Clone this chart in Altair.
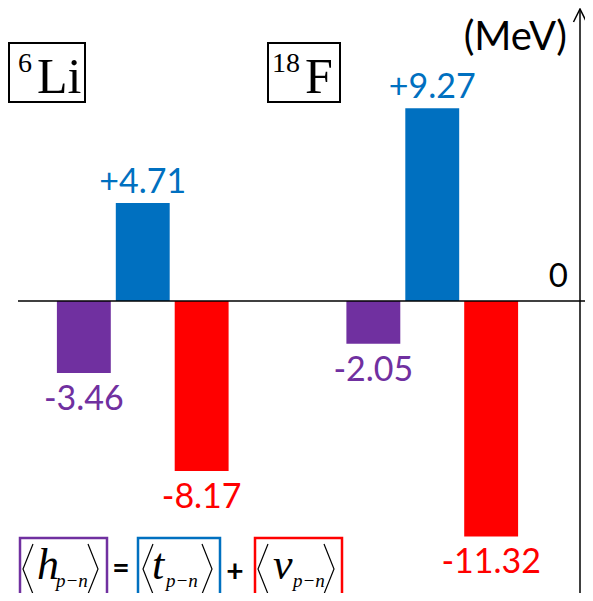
import altair as alt
import pandas as pd

nuclei = ["6Li", "18F"]
components = ["h", "t", "v"]
component_colors = ["#7030A0", "#0070C0", "#FF0000"]
li_values = [-3.46, 4.71, -8.17]
f_values = [-2.05, 9.27, -11.32]

rows = []
for nuc, vals in zip(nuclei, [li_values, f_values]):
    for comp, v in zip(components, vals):
        rows.append({"nucleus": nuc, "component": comp, "value": v, "label": f"{v:+.2f}"})
df = pd.DataFrame(rows)

W, H = 577, 585
one = pd.DataFrame({"k": [0]})

x_enc = alt.X("nucleus:N", scale=alt.Scale(domain=nuclei, range=[-10, 569], paddingInner=0, paddingOuter=0), axis=None)
xo_enc = alt.XOffset("component:N", scale=alt.Scale(domain=components, paddingInner=0.085, paddingOuter=1.0))
y_enc = alt.Y("value:Q", scale=alt.Scale(domain=[-14.04, 14.09], nice=False, zero=False), axis=None)
c_enc = alt.Color("component:N", scale=alt.Scale(domain=components, range=component_colors), legend=None)

base = alt.Chart(df)
bars = base.mark_bar().encode(x=x_enc, xOffset=xo_enc, y=y_enc, y2=alt.datum(0), color=c_enc)
pos_labels = base.transform_filter("datum.value > 0").mark_text(
    font="Lato", fontSize=34, dy=-10, baseline="alphabetic").encode(
    x=x_enc, xOffset=xo_enc, y=y_enc, text="label:N", color=c_enc)
neg_labels = base.transform_filter("datum.value < 0").mark_text(
    font="Lato", fontSize=34, dy=37, baseline="alphabetic").encode(
    x=x_enc, xOffset=xo_enc, y=y_enc, text="label:N", color=c_enc)

zero_line = alt.Chart(one).mark_rule(color="black", strokeWidth=1.5).encode(
    y=alt.datum(0), x=alt.value(10), x2=alt.value(W))
zero_text = alt.Chart(one).mark_text(text="0", font="Lato", fontSize=33, align="right", dy=-14,
                                     baseline="alphabetic", color="black").encode(
    x=alt.value(560), y=alt.datum(0))
axis_line = alt.Chart(one).mark_rule(color="black", strokeWidth=1.5).encode(
    x=alt.value(572), y=alt.value(1), y2=alt.value(H))
arrow_head = alt.Chart(one).mark_point(shape="M-1,2L0,0L1,2", size=169, filled=False,
                                       stroke="black", strokeWidth=1.5, opacity=1).encode(
    x=alt.value(572), y=alt.value(1))


def text_at(s, x, y, size, font="Liberation Serif", style="normal", weight="normal",
            align="left", baseline="alphabetic", color="black"):
    return alt.Chart(one).mark_text(text=s, font=font, fontSize=size, fontStyle=style,
                                    fontWeight=weight, align=align, baseline=baseline,
                                    color=color).encode(x=alt.value(x), y=alt.value(y))


def box(x1, x2, y1, y2, color, sw):
    return alt.Chart(one).mark_rect(fill="white", fillOpacity=0, stroke=color, strokeWidth=sw).encode(
        x=alt.value(x1), x2=alt.value(x2), y=alt.value(y1), y2=alt.value(y2))


def bracket(x, left=True):
    shape = "M0.2,-1L-0.2,0L0.2,1" if left else "M-0.2,-1L0.2,0L-0.2,1"
    return alt.Chart(one).mark_point(shape=shape, size=2500, filled=False, stroke="black",
                                     strokeWidth=1.2, opacity=1).encode(x=alt.value(x), y=alt.value(561))


units = text_at("(MeV)", 559, 42, 40, font="Lato", align="right")

nuc_layers = [
    box(1, 77, 35, 94, "black", 2),
    text_at("6", 10, 64, 28),
    text_at("Li", 29, 85, 50),
    box(260, 332, 35, 94, "black", 2),
    text_at("18", 264, 64, 28),
    text_at("F", 297, 85, 50),
]

legend_layers = [
    box(12, 99, 530, 600, component_colors[0], 2.5),
    box(130, 212, 530, 600, component_colors[1], 2.5),
    box(247, 334, 530, 600, component_colors[2], 2.5),
    bracket(20), text_at("h", 29, 571, 44, style="italic"), text_at("p\u2212n", 48, 579, 19, style="italic"),
    bracket(85, left=False),
    text_at("=", 113, 561, 30, font="Lato", weight="bold", align="center", baseline="middle"),
    bracket(140), text_at("t", 144, 571, 44, style="italic"), text_at("p\u2212n", 158, 579, 19, style="italic"),
    bracket(199, left=False),
    text_at("+", 227, 565, 30, font="Lato", weight="bold", align="center", baseline="middle"),
    bracket(255), text_at("v", 265, 571, 44, style="italic"), text_at("p\u2212n", 285, 579, 19, style="italic"),
    bracket(321, left=False),
]

chart = alt.layer(
    bars, pos_labels, neg_labels, zero_line, zero_text, axis_line, arrow_head, units,
    *nuc_layers, *legend_layers
).properties(width=W, height=H, padding=0, autosize="none").configure_view(stroke=None)

chart.save("out.html", embed_options={"renderer": "svg", "actions": False})
